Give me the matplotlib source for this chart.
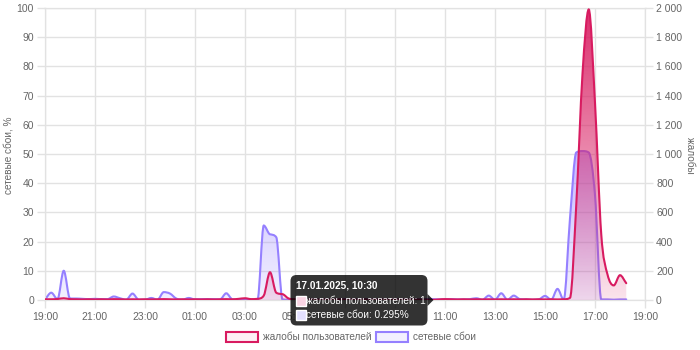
import numpy as np
import pandas as pd
import matplotlib
matplotlib.use('Agg')
import matplotlib.pyplot as plt
import matplotlib.dates as mdates
from matplotlib.path import Path
from matplotlib.patches import PathPatch, Rectangle, FancyBboxPatch, Polygon
from matplotlib.ticker import MultipleLocator, FuncFormatter
from matplotlib.colors import to_rgba
from matplotlib.transforms import IdentityTransform

plt.rcParams['font.family'] = ['Liberation Sans', 'DejaVu Sans']

# 15-minute samples, 16.01 19:00 .. 17.01 18:15
times = pd.date_range('2025-01-16 19:00', '2025-01-17 18:15', freq='15min')

# network failures, %
failures = [
    0.2, 2.5, 0.3, 10, 0.5, 0.5, 0.4, 0.3,          # 19:00-20:45
    0.4, 0.3, 0.3, 1.2, 0.6, 0.1, 2.2, 0.1,         # 21:00-22:45
    0.1, 0.7, 0.1, 2.7, 2.2, 0.5, 0.1, 0.7,         # 23:00-00:45
    0.2, 0.3, 0.3, 0.3, 0.2, 2.3, 0.2, 0.1,         # 01:00-02:45
    0.1, 0.1, 0.0, 25.5, 22.5, 21.5, 0.2, 0.1,      # 03:00-04:45
    0.2, 0.3, 0.2, 0.3, 0.2, 0.3, 0.2, 0.2,         # 05:00-06:45
    0.3, 0.2, 0.3, 0.2, 0.2, 0.3, 0.2, 0.3,         # 07:00-08:45
    0.2, 0.3, 0.2, 0.3, 0.2, 0.3, 0.295, 0.2,       # 09:00-10:45
    0.2, 0.3, 0.2, 0.2, 0.3, 0.6, 0.1, 1.5,         # 11:00-12:45
    0.1, 2.3, 0.1, 1.5, 0.3, 0.2, 0.1, 0.2,         # 13:00-14:45
    1.4, 0.1, 3.8, 0.1, 28, 50.5, 51, 50.5,         # 15:00-16:45
    36, 0.2, 0.2, 0.1, 0.2, 0.2,                    # 17:00-18:15
]

# user complaints
complaints = [
    5, 5, 7, 12, 6, 5, 4, 5,
    4, 5, 4, 6, 5, 4, 5, 4,
    5, 4, 5, 6, 5, 4, 5, 4,
    5, 4, 5, 4, 5, 6, 5, 8,
    12, 6, 8, 30, 190, 50, 40, 10,
    5, 4, 3, 4, 3, 4, 3, 4,
    3, 4, 3, 4, 3, 4, 3, 4,
    3, 4, 3, 4, 3, 3, 1, 4,
    6, 5, 4, 5, 4, 5, 4, 5,
    4, 5, 4, 5, 4, 5, 4, 5,
    4, 5, 4, 5, 15, 650, 1550, 1990,
    1350, 450, 175, 100, 170, 115,
]

# labels hidden under the tooltip in the original
covered_hours = [7, 9]

red = '#d81b60'
blue = '#9580ff'
grey = '#666666'
gridc = '#e2e2e2'
fs = 7.5   # tick labels
ts = 7.2   # other texts


def monotone_path(x, y, closed=False):
    # chart.js style monotone cubic, as bezier segments
    x = np.asarray(x, float)
    y = np.asarray(y, float)
    n = len(x)
    d = np.diff(y) / np.diff(x)
    m = np.zeros(n)
    m[0], m[-1] = d[0], d[-1]
    for i in range(1, n - 1):
        m[i] = 0 if d[i - 1] * d[i] <= 0 else (d[i - 1] + d[i]) / 2
    for i in range(n - 1):
        if d[i] == 0:
            m[i] = m[i + 1] = 0
            continue
        a, b = m[i] / d[i], m[i + 1] / d[i]
        s = a * a + b * b
        if s > 9:
            t = 3 / np.sqrt(s)
            m[i], m[i + 1] = a * t * d[i], b * t * d[i]
    verts = [(x[0], y[0])]
    codes = [Path.MOVETO]
    for i in range(n - 1):
        dx = (x[i + 1] - x[i]) / 3
        verts += [(x[i] + dx, y[i] + m[i] * dx),
                  (x[i + 1] - dx, y[i + 1] - m[i + 1] * dx),
                  (x[i + 1], y[i + 1])]
        codes += [Path.CURVE4] * 3
    if closed:
        verts += [(x[-1], 0), (x[0], 0), (x[0], 0)]
        codes += [Path.LINETO, Path.LINETO, Path.CLOSEPOLY]
    return Path(verts, codes)


def draw_series(ax, x, y, color, top, a0, a1, z):
    patch = PathPatch(monotone_path(x, y, True), fc='none', ec='none')
    ax.add_patch(patch)
    rgba = to_rgba(color)
    img = np.zeros((256, 1, 4))
    img[..., :3] = rgba[:3]
    img[:, 0, 3] = a0 + (a1 - a0) * np.linspace(0, 1, 256)
    im = ax.imshow(img, extent=[x[0], x[-1], 0, top], origin='lower',
                   aspect='auto', interpolation='bilinear', zorder=z)
    im.set_clip_path(patch)
    ax.add_patch(PathPatch(monotone_path(x, y), fc='none', ec=color,
                           lw=1.5, zorder=z + 1, capstyle='round'))


def hour_label(v, pos):
    d = mdates.num2date(v)
    if d.minute == 0 and d.hour in covered_hours:
        return ''
    return d.strftime('%H:%M')


fig = plt.figure(figsize=(7, 3.5), dpi=100)
ax = fig.add_axes([45 / 700, 50 / 350, 600 / 700, 292 / 350])
ax2 = ax.twinx()

xs = mdates.date2num(times)
draw_series(ax, xs, failures, blue, 100, 0.12, 0.95, 2)
draw_series(ax2, xs, complaints, red, 2000, 0.12, 0.92, 2)

x0 = mdates.date2num(pd.Timestamp('2025-01-16 19:00'))
x1 = mdates.date2num(pd.Timestamp('2025-01-17 19:00'))
ax.set_xlim(x0, x1)
ax.set_ylim(0, 100)
ax2.set_ylim(0, 2000)

ax.xaxis.set_major_locator(mdates.HourLocator(byhour=range(1, 24, 2)))
ax.xaxis.set_major_formatter(FuncFormatter(hour_label))
ax.yaxis.set_major_locator(MultipleLocator(10))
ax2.yaxis.set_major_locator(MultipleLocator(200))
ax2.yaxis.set_major_formatter(FuncFormatter(lambda v, p: f'{int(v):,}'.replace(',', ' ')))

ax.grid(True, color=gridc, lw=1)
ax.set_axisbelow(True)
for a in (ax, ax2):
    a.tick_params(length=6, width=1, color=gridc, labelcolor=grey, labelsize=fs, pad=2)
    for s in a.spines.values():
        s.set_color(gridc)
ax.tick_params(axis='x', pad=3)

fig.text(9 / 700, 1 - 155 / 350, 'сетевые сбои, %', rotation=90, color=grey,
         fontsize=ts, ha='center', va='center')
fig.text(690 / 700, 1 - 155 / 350, 'жалобы', rotation=270, color=grey,
         fontsize=ts, ha='center', va='center')

# legend
fig.add_artist(Rectangle((226 / 700, 1 - 342 / 350), 32 / 700, 10 / 350,
                         transform=fig.transFigure, fc='#fdf0f5', ec=red, lw=1.5))
fig.text(263 / 700, 1 - 336.5 / 350, 'жалобы пользователей', color=grey,
         fontsize=ts, va='center')
fig.add_artist(Rectangle((376 / 700, 1 - 342 / 350), 32 / 700, 10 / 350,
                         transform=fig.transFigure, fc='#f2f0ff', ec=blue, lw=1.5))
fig.text(413 / 700, 1 - 336.5 / 350, 'сетевые сбои', color=grey,
         fontsize=ts, va='center')

# tooltip
idt = IdentityTransform()
fig.add_artist(FancyBboxPatch((290.5, 350 - 325.5), 137, 50.5,
                              boxstyle='round,pad=0,rounding_size=6',
                              fc=(0, 0, 0, 0.8), ec='none', transform=idt, zorder=20))
fig.add_artist(Polygon([(427.5, 350 - 294), (433.5, 350 - 300), (427.5, 350 - 306)],
                       closed=True, fc=(0, 0, 0, 0.8), ec='none', transform=idt, zorder=20))
fig.text(296 / 700, 1 - 285 / 350, '17.01.2025, 10:30', color='white',
         fontsize=ts, fontweight='bold', va='center', zorder=21)
fig.add_artist(Rectangle((295.5, 350 - 306), 10, 10, fc='#f9d4e3', ec='white',
                         lw=1, transform=idt, zorder=21))
fig.text(306.5 / 700, 1 - 301 / 350, 'жалобы пользователей: 1', color='white',
         fontsize=ts, va='center', zorder=21)
fig.add_artist(Rectangle((295.5, 350 - 320), 10, 10, fc='#e3e0ff', ec='white',
                         lw=1, transform=idt, zorder=21))
fig.text(306.5 / 700, 1 - 315 / 350, 'сетевые сбои: 0.295%', color='white',
         fontsize=ts, va='center', zorder=21)

fig.savefig('out.png', dpi=100)
